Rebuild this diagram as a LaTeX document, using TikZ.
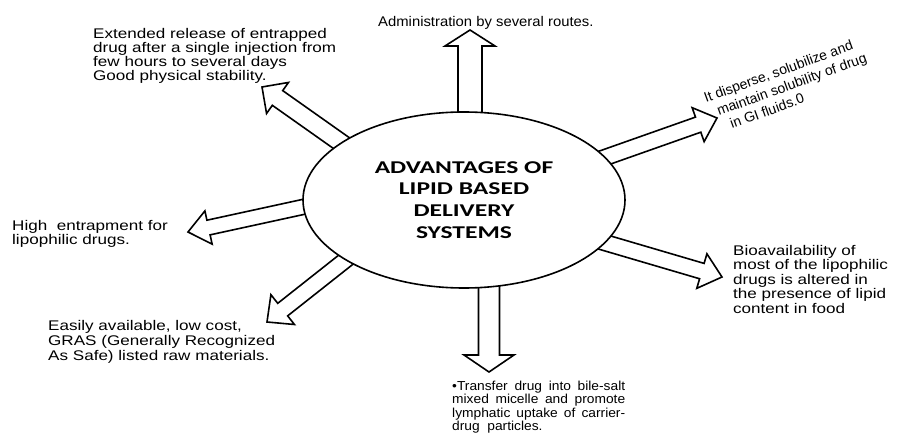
\documentclass[tikz,border=0pt]{standalone}
\usepackage{fontspec}
\setmainfont{Liberation Sans}
\newfontfamily\wideA[FakeStretch=1.22]{Liberation Sans}
\newfontfamily\wideB[FakeStretch=1.06]{Liberation Sans}
\newfontfamily\ctrfont[FakeStretch=1.42]{Carlito}
\usetikzlibrary{shapes.geometric,calc}

\tikzset{
  blockarrow/.style={draw=black, fill=white, line width=1.6pt, line join=miter},
  hub/.style={ellipse, draw=black, line width=1.6pt, fill=white,
    minimum width=322pt, minimum height=176pt, inner sep=0pt,
    font=\ctrfont\bfseries\fontsize{18}{21.7}\selectfont, align=center},
  note/.style={inner sep=0pt, anchor=north west, align=left,
    font=\wideA\fontsize{14}{14}\selectfont},
  slanted/.style={inner sep=0pt, anchor=base west, rotate=20,
    font=\fontsize{14}{14}\selectfont},
}

% #1 prefix, #2 base, #3 tip, #4 half shaft, #5 half head, #6 head length
\newcommand\blockarrow[6]{%
  \coordinate (#1h) at ($(#3)!#6!(#2)$);
  \draw[blockarrow] ($(#2)!#4!90:(#3)$) -- ($(#1h)!#4!90:(#3)$) -- ($(#1h)!#5!90:(#3)$)
    -- (#3) -- ($(#1h)!#5!-90:(#3)$) -- ($(#1h)!#4!-90:(#3)$) -- ($(#2)!#4!-90:(#3)$) -- cycle;
}

\begin{document}
\begin{tikzpicture}[x=1pt, y=-1pt]
\useasboundingbox (0,0) rectangle (900,433);

% arrow ends
\coordinate (b1) at (470,125);  \coordinate (t1) at (470,30);
\coordinate (b2) at (354,152);  \coordinate (t2) at (262,87);
\coordinate (b3) at (598,160);  \coordinate (t3) at (717,118);
\coordinate (b4) at (596,240);  \coordinate (t4) at (722,277);
\coordinate (b5) at (489,278);  \coordinate (t5) at (489,372);
\coordinate (b6) at (312,205);  \coordinate (t6) at (188,232);
\coordinate (b7) at (348,258);  \coordinate (t7) at (267,322);

\blockarrow{a1}{b1}{t1}{12pt}{25pt}{16pt}
\blockarrow{a2}{b2}{t2}{9pt}{19pt}{19pt}
\blockarrow{a3}{b3}{t3}{8pt}{18pt}{20pt}
\blockarrow{a4}{b4}{t4}{8pt}{18pt}{21pt}
\blockarrow{a5}{b5}{t5}{10.5pt}{25pt}{17pt}
\blockarrow{a6}{b6}{t6}{7.5pt}{17pt}{21pt}
\blockarrow{a7}{b7}{t7}{8pt}{19pt}{20pt}

\node[hub] (hub) at (464,200) {ADVANTAGES OF\\LIPID BASED\\DELIVERY\\SYSTEMS};

\node[note, font=\wideB\fontsize{14}{14}\selectfont] (top) at (378,16) {Administration by several routes.};
\node[note] (topleft) at (93,28) {Extended release of entrapped\\drug after a single injection from\\few hours to several days\\ Good physical stability.};
\node[note, font=\wideA\fontsize{14}{13}\selectfont] (left) at (12,220) {High \ entrapment for\\lipophilic drugs.};
\node[note, font=\wideA\fontsize{14}{15}\selectfont] (botleft) at (48,320) {Easily available, low cost,\\GRAS (Generally Recognized\\As Safe) listed raw materials.};
\node[note, font=\wideA\fontsize{14}{14.5}\selectfont] (right) at (733,245) {Bioavailability of\\most of the lipophilic\\drugs is altered in\\the presence of lipid\\content in food};
\node[note, font=\wideB\fontsize{13}{13.3}\selectfont] (bottom) at (452,381)
  {\makebox[173pt][s]{•Transfer drug into bile-salt}\\
   \makebox[173pt][s]{mixed micelle and promote}\\
   \makebox[173pt][s]{lymphatic uptake of carrier-}\\
   drug \ particles.};

\node[slanted] (tr1) at (706,103) {It disperse, solubilize and};
\node[slanted] (tr2) at (719,116) {maintain solubility of drug};
\node[slanted] (tr3) at (732,129) {in GI fluids.0};
\end{tikzpicture}
\end{document}
